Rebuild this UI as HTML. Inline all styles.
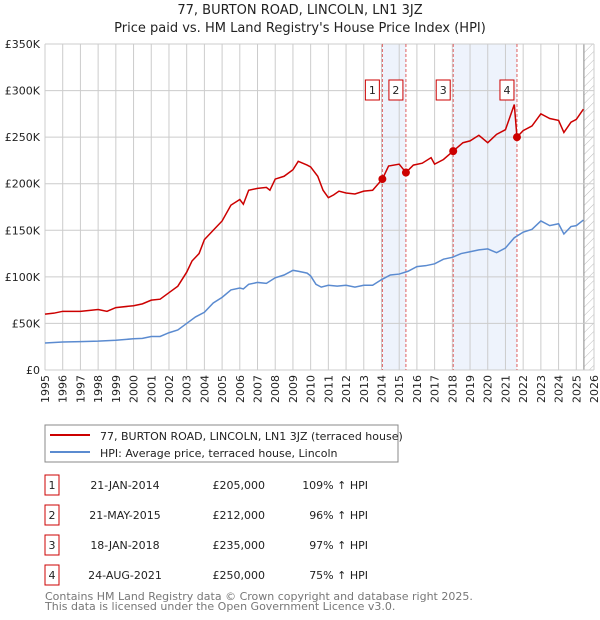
<!DOCTYPE html>
<html><head><meta charset="utf-8"><style>
body{margin:0;background:#fff;font-family:"DejaVu Sans","Liberation Sans",sans-serif;}
svg{display:block}
text{font-family:"DejaVu Sans","Liberation Sans",sans-serif;}
</style></head><body>
<svg id="c" width="600" height="620">
<defs><pattern id="hatch" width="6" height="6" patternUnits="userSpaceOnUse" patternTransform="rotate(45)"><line x1="0" y1="0" x2="0" y2="6" stroke="#bbb" stroke-width="1"/></pattern></defs>
<text x="300" y="14" text-anchor="middle" font-size="13" fill="#222">77, BURTON ROAD, LINCOLN, LN1 3JZ</text>
<text x="300" y="32" text-anchor="middle" font-size="13" fill="#222">Price paid vs. HM Land Registry's House Price Index (HPI)</text>
<g id="grid"></g><g id="marks"></g><g id="axes"></g>
<rect x="45" y="425" width="353" height="37" fill="#fff" stroke="#888"/>
<line x1="50" y1="435" x2="90" y2="435" stroke="#cc0000" stroke-width="2"/>
<text x="100" y="440" font-size="11" fill="#222">77, BURTON ROAD, LINCOLN, LN1 3JZ (terraced house)</text>
<line x1="50" y1="452" x2="90" y2="452" stroke="#5b8bd0" stroke-width="2"/>
<text x="100" y="457" font-size="11" fill="#222">HPI: Average price, terraced house, Lincoln</text>
<g id="table" font-size="11" fill="#222"></g>
<text x="45" y="600" font-size="11" fill="#777">Contains HM Land Registry data © Crown copyright and database right 2025.</text>
<text x="45" y="610" font-size="11" fill="#777">This data is licensed under the Open Government Licence v3.0.</text>
</svg>
<script>
const yTicks=[0,50,100,150,200,250,300,350];
const yTickLabels=["£0","£50K","£100K","£150K","£200K","£250K","£300K","£350K"];
const xYears=[1995,1996,1997,1998,1999,2000,2001,2002,2003,2004,2005,2006,2007,2008,2009,2010,2011,2012,2013,2014,2015,2016,2017,2018,2019,2020,2021,2022,2023,2024,2025,2026];
const hpiT=[1995,1996,1997,1998,1999,2000,2000.5,2001,2001.5,2002,2002.5,2003,2003.5,2004,2004.5,2005,2005.5,2006,2006.2,2006.5,2007,2007.5,2008,2008.5,2009,2009.3,2009.8,2010,2010.3,2010.6,2011,2011.5,2012,2012.5,2013,2013.5,2014,2014.5,2015,2015.5,2016,2016.5,2017,2017.5,2018,2018.5,2019,2019.5,2020,2020.5,2021,2021.5,2022,2022.5,2023,2023.5,2024,2024.3,2024.7,2025,2025.4];
const hpiV=[29,30,30.5,31,32,33.5,34,36,36,40,43,50,57,62,72,78,86,88,87,92,94,93,99,102,107,106,104,101,92,89,91,90,91,89,91,91,97,102,103,106,111,112,114,119,121,125,127,129,130,126,131,142,148,151,160,155,157,146,154,155,161];
const redT=[1995,1995.5,1996,1997,1998,1998.5,1999,2000,2000.5,2001,2001.5,2002,2002.5,2003,2003.3,2003.7,2004,2004.5,2005,2005.5,2006,2006.2,2006.5,2007,2007.5,2007.7,2008,2008.5,2009,2009.3,2009.8,2010,2010.4,2010.7,2011,2011.3,2011.6,2012,2012.5,2013,2013.5,2014.05,2014.4,2015,2015.38,2015.8,2016.3,2016.8,2017,2017.5,2018.05,2018.6,2019,2019.5,2020,2020.5,2021,2021.5,2021.65,2022,2022.5,2023,2023.5,2024,2024.3,2024.7,2025,2025.4];
const redV=[60,61,63,63,65,63,67,69,71,75,76,83,90,105,117,125,140,150,160,177,183,178,193,195,196,193,205,208,215,224,220,218,208,193,185,188,192,190,189,192,193,205,219,221,212,220,222,228,221,226,235,244,246,252,244,253,258,285,250,257,262,275,270,268,255,266,269,280];
const saleLabels=["1","2","3","4"];
const saleT=[2014.05,2015.38,2018.05,2021.65];
const saleV=[205,212,235,250];
const saleDates=["21-JAN-2014","21-MAY-2015","18-JAN-2018","24-AUG-2021"];
const salePrices=["£205,000","£212,000","£235,000","£250,000"];
const saleHpi=["109% ↑ HPI","96% ↑ HPI","97% ↑ HPI","75% ↑ HPI"];
const shadeRanges=[[2014.05,2015.38],[2018.05,2021.65]];
const hatchStart=2025.43;

const X0=45,X1=594,Y0=370,Y1=44;
const xs=t=>X0+(t-1995)/(2026-1995)*(X1-X0);
const ys=v=>Y0-v/350*(Y0-Y1);
const NS="http://www.w3.org/2000/svg";
function mk(tag,attrs,parent){const e=document.createElementNS(NS,tag);for(const k in attrs)e.setAttribute(k,attrs[k]);parent.appendChild(e);return e;}
const grid=document.getElementById('grid'),marks=document.getElementById('marks'),axes=document.getElementById('axes'),table=document.getElementById('table');
mk('rect',{x:X0,y:Y1,width:X1-X0,height:Y0-Y1,fill:'#fff'},grid);
shadeRanges.forEach((r,i)=>{const e=mk('rect',{x:xs(r[0]),y:Y1,width:xs(r[1])-xs(r[0]),height:Y0-Y1,fill:'#eef3fc'},grid);

});
const h=mk('rect',{x:xs(hatchStart),y:Y1,width:X1-xs(hatchStart),height:Y0-Y1,fill:'url(#hatch)'},grid);


mk('line',{x1:xs(hatchStart),y1:Y1,x2:xs(hatchStart),y2:Y0,stroke:'#888'},grid);
xYears.forEach(y=>{mk('line',{x1:xs(y),y1:Y1,x2:xs(y),y2:Y0,stroke:'#ccc'},grid);
const t=mk('text',{x:0,y:0,'font-size':11,fill:'#222','text-anchor':'end',transform:`translate(${xs(y)+4},${Y0+5}) rotate(-90)`},axes);t.textContent=y;

});
yTicks.forEach((v,i)=>{mk('line',{x1:X0,y1:ys(v),x2:X1,y2:ys(v),stroke:'#ccc'},grid);
const t=mk('text',{x:X0-5,y:ys(v)+4,'font-size':11,fill:'#222','text-anchor':'end'},axes);t.textContent=yTickLabels[i];

});
saleT.forEach(t=>{mk('line',{x1:xs(t),y1:Y1,x2:xs(t),y2:Y0,stroke:'#e06060','stroke-dasharray':'3,2'},grid);});
const hp=mk('polyline',{points:hpiT.map((t,i)=>xs(t)+','+ys(hpiV[i])).join(' '),fill:'none',stroke:'#5b8bd0','stroke-width':1.5},marks);


const rp=mk('polyline',{points:redT.map((t,i)=>xs(t)+','+ys(redV[i])).join(' '),fill:'none',stroke:'#cc0000','stroke-width':1.5},marks);


saleT.forEach((t,i)=>{const c=mk('circle',{cx:xs(t),cy:ys(saleV[i]),r:4,fill:'#cc0000'},marks);


const b=mk('rect',{x:xs(t)-17,y:80,width:14,height:20,fill:'#fff',stroke:'#cc0000'},marks);


const tx=mk('text',{x:xs(t)-10,y:94,'font-size':11,fill:'#222','text-anchor':'middle'},marks);tx.textContent=saleLabels[i];
const ry=475+i*30;
const rb=mk('rect',{x:45,y:ry,width:14,height:20,fill:'#fff',stroke:'#cc0000'},table);


const cols=[[52,saleLabels[i],'middle'],[125,saleDates[i],'middle'],[265,salePrices[i],'end'],[368,saleHpi[i],'end']];
cols.forEach((c2,j)=>{const e=mk('text',{x:c2[0],y:ry+14,'text-anchor':c2[2]},table);e.textContent=c2[1];

});
});
</script>
</body></html>
